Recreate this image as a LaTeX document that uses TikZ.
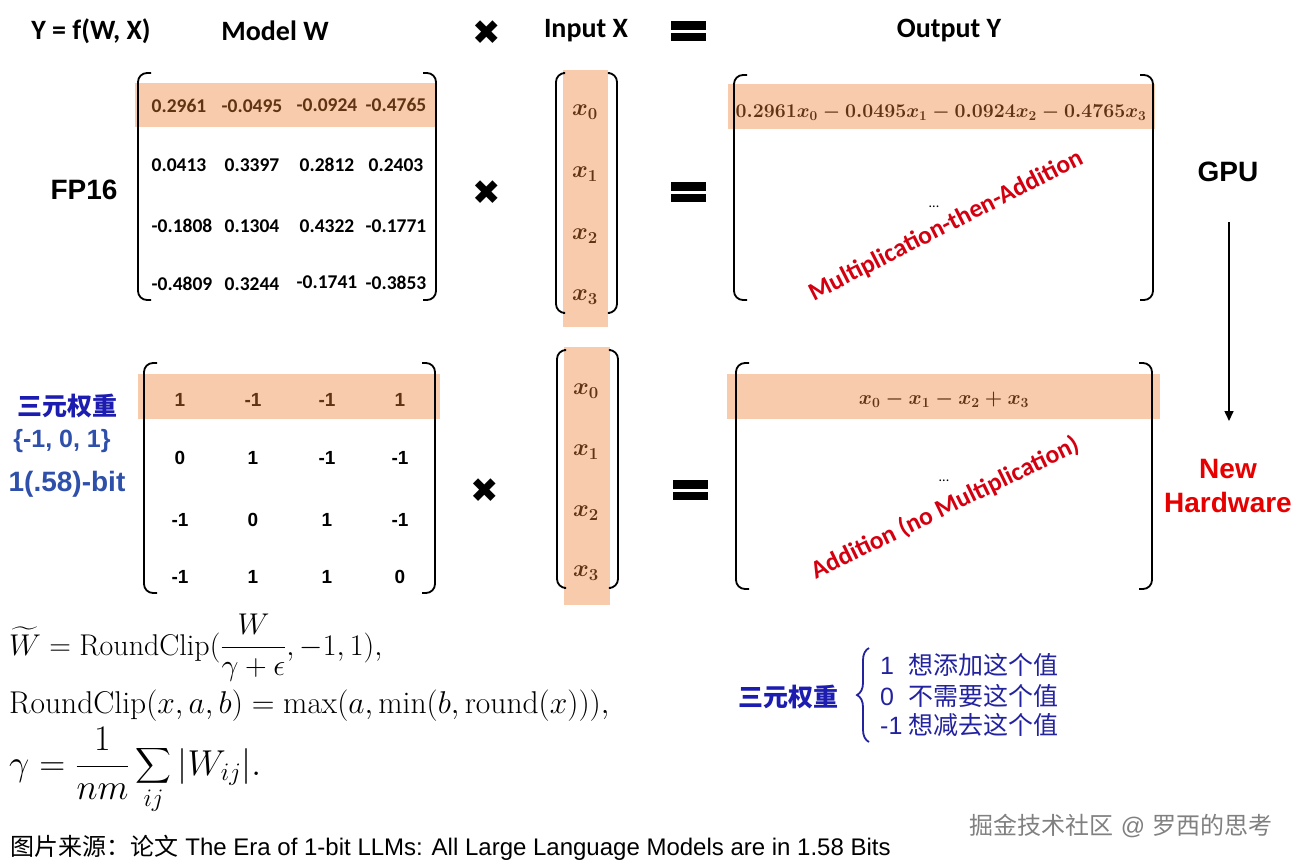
\documentclass[tikz,border=0pt]{standalone}
\usepackage{fix-cm}
\usepackage{amsmath}
\usepackage{fontspec}
\usetikzlibrary{arrows.meta,decorations.pathreplacing}
\newfontfamily\calib{Carlito}
\newfontfamily\arial{Liberation Sans}
\newfontfamily\cjk{Noto Sans CJK SC}
\newfontfamily\dvs{DejaVu Sans}
\newcommand\fsz[1]{\fontsize{#1}{#1}\selectfont}
\newcommand\fszb[2]{\fontsize{#1}{#2}\selectfont}
\definecolor{hlc}{HTML}{F8CBAD}
\definecolor{brn}{HTML}{5E3412}
\definecolor{hred}{HTML}{E60000}
\definecolor{dred}{HTML}{D40010}
\definecolor{blueA}{HTML}{1C1CB0}
\definecolor{blueB}{HTML}{2F50AA}
\definecolor{blueC}{HTML}{2323A0}
\definecolor{wmark}{HTML}{808080}
\newcommand\brL[4]{\draw[brk] (#1+#4,#2) -- (#1,#2) -- (#1,#3) -- (#1+#4,#3);}
\newcommand\brR[4]{\draw[brk] (#1-#4,#2) -- (#1,#2) -- (#1,#3) -- (#1-#4,#3);}
\newcommand\heq[2]{\fill (#1-17.5,#2-10) rectangle (#1+17.5,#2-1.5); \fill (#1-17.5,#2+1.5) rectangle (#1+17.5,#2+10);}
\begin{document}
\begin{tikzpicture}[x=1pt,y=-1pt,
  hl/.style={fill=hlc,draw=none},
  brk/.style={line width=1.8pt,rounded corners=9pt},
  hdr/.style={font=\calib\bfseries\fsz{28}},
  num/.style={font=\calib\bfseries\fsz{19.5}},
  hnum/.style={num,text=brn},
  tnum/.style={font=\arial\bfseries\fsz{19}},
  htnum/.style={tnum,text=brn},
  big/.style={font=\arial\bfseries\fsz{28}},
  vx/.style={text=brn,font=\boldmath\fsz{24}},
  times/.style={font=\dvs\fsz{34}},
  diag/.style={font=\calib\bfseries\fsz{25.5},text=dred},
  dots/.style={font=\calib\fsz{14}},
  frm/.style={anchor=base west,inner sep=0pt},
  leg/.style={anchor=west,inner sep=0pt,text=blueC,font=\fsz{25}}
]
\useasboundingbox (0,0) rectangle (1300,863);
% highlights
\fill[hl] (135,83) rectangle (437,127);
\fill[hl] (563,70) rectangle (608,327);
\fill[hl] (728,84) rectangle (1155,129);
\fill[hl] (138,374) rectangle (440,419);
\fill[hl] (564,347) rectangle (610,605);
\fill[hl] (727,374) rectangle (1160,419);
% header
\node[hdr] (hY) at (91,31) {Y = f(W, X)};
\node[hdr] (hW) at (275,31) {Model W};
\node[times] (hx) at (487,33) {✖};
\node[hdr] (hX) at (586,31) {Input X};
\heq{688}{31}
\node[hdr] (hO) at (949,31) {Output Y};
% top row
\node[big] (fp) at (84,190) {FP16};
\brL{138}{73}{300}{13}\brR{436}{73}{300}{13}
\node[hnum] (w00) at (179,106) {0.2961};
\node[hnum] (w01) at (252,106) {-0.0495};
\node[hnum] (w02) at (327,105) {-0.0924};
\node[hnum] (w03) at (396,105) {-0.4765};
\node[num] (w10) at (179,165) {0.0413};
\node[num] (w11) at (252,165) {0.3397};
\node[num] (w12) at (327,165) {0.2812};
\node[num] (w13) at (396,165) {0.2403};
\node[num] (w20) at (182,226) {-0.1808};
\node[num] (w21) at (252,226) {0.1304};
\node[num] (w22) at (327,226) {0.4322};
\node[num] (w23) at (396,226) {-0.1771};
\node[num] (w30) at (182,284) {-0.4809};
\node[num] (w31) at (252,284) {0.3244};
\node[num] (w32) at (327,282) {-0.1741};
\node[num] (w33) at (396,283) {-0.3853};
\node[times] (tx) at (487,193) {✖};
\brL{556}{73}{313}{7}\brR{617}{73}{313}{7}
\node[vx] (x0) at (585,112) {$x_0$};
\node[vx] (x1) at (585,174) {$x_1$};
\node[vx] (x2) at (585,236) {$x_2$};
\node[vx] (x3) at (585,297) {$x_3$};
\heq{688}{192}
\brL{734}{75}{300}{13}\brR{1153}{75}{300}{13}
\node[vx,font=\boldmath\fsz{19.5}] (y0) at (941,113) {$0.2961x_0-0.0495x_1-0.0924x_2-0.4765x_3$};
\node[dots] (yd) at (934,207) {...};
\node[diag,rotate=27] (mta) at (946,226) {Multiplication-then-Addition};
\node[big] (gpu) at (1228,172) {GPU};
% bottom row
\node[font=\cjk\bfseries\fsz{25},text=blueA] (tw) at (67,406) {三元权重};
\node[font=\arial\bfseries\fsz{25},text=blueB] (set) at (62,441) {\{-1, 0, 1\}};
\node[font=\arial\bfseries\fsz{28},text=blueB] (bit) at (67,484) {1(.58)-bit};
\brL{144}{363}{593}{13}\brR{435}{363}{593}{13}
\node[htnum] (t00) at (180,400) {1};
\node[htnum] (t01) at (253,400) {-1};
\node[htnum] (t02) at (327,400) {-1};
\node[htnum] (t03) at (400,400) {1};
\node[tnum] (t10) at (180,458) {0};
\node[tnum] (t11) at (253,458) {1};
\node[tnum] (t12) at (327,458) {-1};
\node[tnum] (t13) at (400,458) {-1};
\node[tnum] (t20) at (180,520) {-1};
\node[tnum] (t21) at (253,520) {0};
\node[tnum] (t22) at (327,520) {1};
\node[tnum] (t23) at (400,520) {-1};
\node[tnum] (t30) at (180,577) {-1};
\node[tnum] (t31) at (253,577) {1};
\node[tnum] (t32) at (327,577) {1};
\node[tnum] (t33) at (400,577) {0};
\node[times] (bx) at (485,491) {✖};
\brL{557}{350}{588}{7}\brR{618}{350}{588}{7}
\node[vx] (z0) at (586,391) {$x_0$};
\node[vx] (z1) at (586,452) {$x_1$};
\node[vx] (z2) at (586,513) {$x_2$};
\node[vx] (z3) at (586,573) {$x_3$};
\heq{690}{490}
\brL{736}{363}{589}{13}\brR{1152}{363}{589}{13}
\node[vx,font=\boldmath\fsz{20}] (b0) at (944,400) {$x_0-x_1-x_2+x_3$};
\node[dots] (bd) at (944,481) {...};
\node[diag,rotate=26] (anm) at (945,508) {Addition (no Multiplication)};
\node[text=hred,align=center,font=\arial\bfseries\fszb{28}{34}] (nh) at (1228,486) {New\\Hardware};
\coordinate (a1) at (1229,222);
\coordinate (a2) at (1229,421);
\draw[line width=1.6pt,-{Triangle[length=10pt,width=9pt]}] (a1) -- (a2);
% formulas
\node[frm,font=\fsz{30}] (f1) at (9,655) {$\displaystyle \widetilde{W}=\mathrm{RoundClip}(\frac{W}{\gamma+\epsilon},-1,1),$};
\node[frm,font=\fsz{31.5}] (f2) at (9,713) {$\mathrm{RoundClip}(x,a,b)=\max(a,\min(b,\mathrm{round}(x))),$};
\node[frm,font=\fsz{36}] (f3) at (9,775) {$\displaystyle \gamma=\frac{1}{nm}\sum_{ij}|W_{ij}|.$};
\node[anchor=base west,inner sep=0pt,font=\fsz{24}] (cap) at (10,855) {{\cjk 图片来源：论文} {\arial The Era of 1-bit LLMs: All Large Language Models are in 1.58 Bits}};
% legend
\node[font=\cjk\bfseries\fsz{25},text=blueA] (lt) at (788,697) {三元权重};
\coordinate (bra) at (869,742);
\coordinate (brb) at (869,648);
\draw[blueC,line width=1.8pt,decorate,decoration={brace,amplitude=12pt,aspect=0.5}] (bra) -- (brb);
\node[leg] (l1) at (880,665) {\makebox[28pt][l]{\arial 1}{\cjk 想添加这个值}};
\node[leg] (l2) at (880,696) {\makebox[28pt][l]{\arial 0}{\cjk 不需要这个值}};
\node[leg] (l3) at (880,725) {\makebox[28pt][l]{\arial -1}{\cjk 想减去这个值}};
\node[font=\fsz{24},text=wmark] (wm) at (1121,826) {{\cjk 掘金技术社区} {\arial @} {\cjk 罗西的思考}};
\end{tikzpicture}
\end{document}
